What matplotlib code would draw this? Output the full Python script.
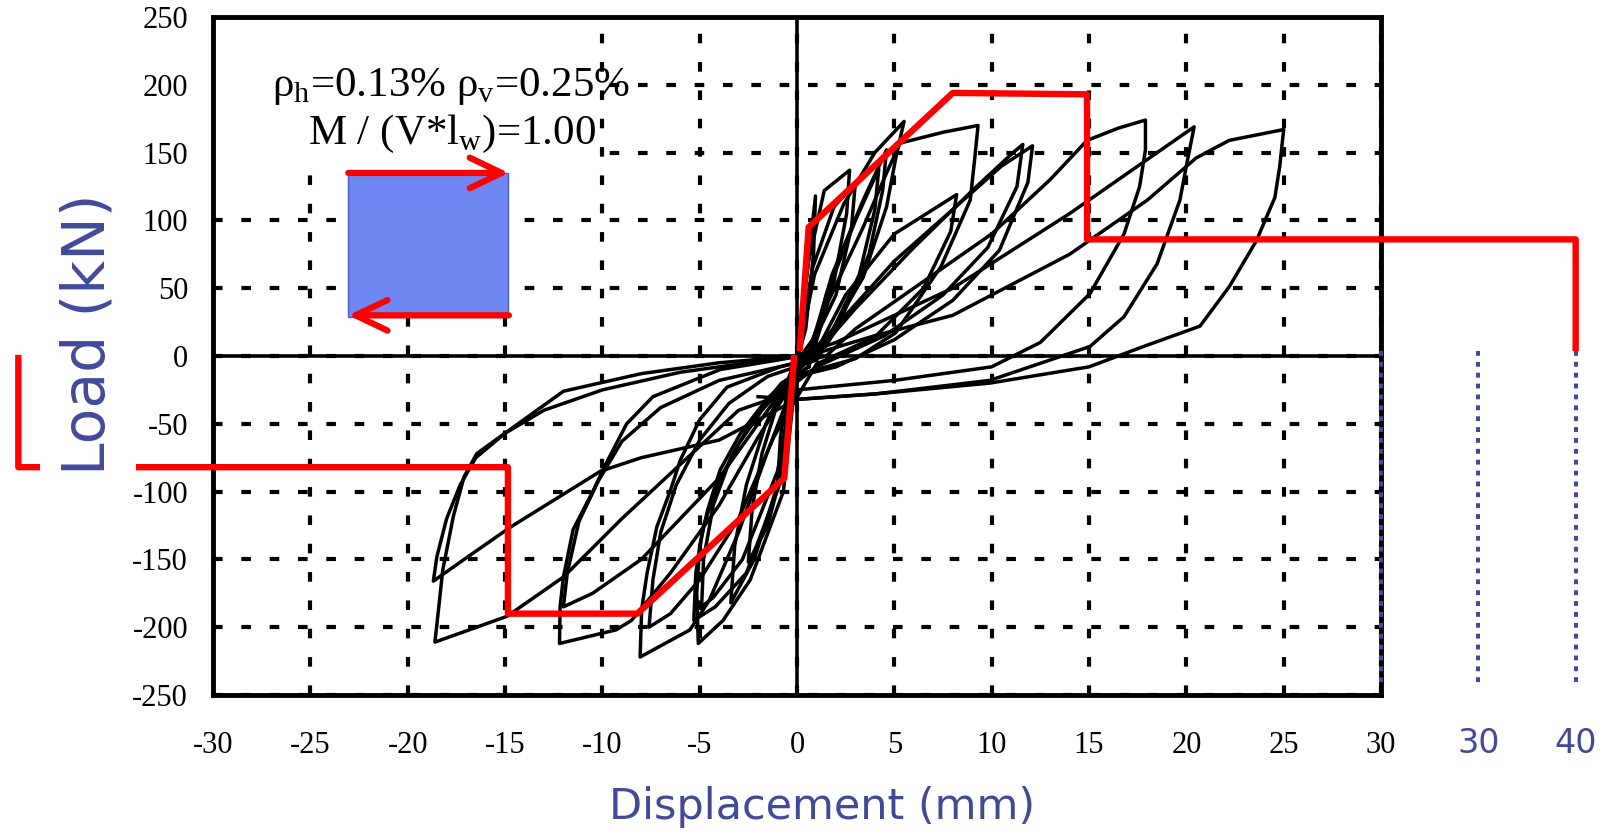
import matplotlib
matplotlib.use("Agg")
import matplotlib.pyplot as plt
import numpy as np
from matplotlib.patches import Rectangle

plt.rcParams["axes.unicode_minus"] = False

# hysteresis cycles, (displacement mm, load kN)
cyc1 = [(0, 0), (0.5, 60), (0.95, 118), (0.85, 75), (0.45, 20), (0, -3), (-0.5, -55),
        (-1.0, -95), (-0.85, -60), (-0.4, -15), (0, 0)]
cyc2 = [(0, 0), (0.6, 70), (1.4, 122), (2.7, 137), (2.55, 105), (1.9, 55), (0.8, 12),
        (0, -4), (-0.6, -75), (-1.5, -125), (-2.5, -152), (-2.3, -112), (-1.8, -72),
        (-1.0, -35), (0, -4)]
cyc2b = [(0, -4), (0.8, 65), (1.9, 110), (3.0, 128), (2.8, 95), (2.0, 45), (0.7, 6),
         (-0.3, -20), (-1.0, -95), (-2.2, -150), (-3.4, -182), (-3.2, -140),
         (-2.6, -95), (-1.6, -50), (-0.5, -18), (0.3, -6)]
cyc3 = [(0, -4), (0.9, 60), (2.4, 112), (4.0, 150), (5.5, 173), (5.1, 148), (4.6, 110),
        (3.4, 58), (1.6, 14), (0, -6), (-0.7, -100), (-2.4, -165), (-3.8, -195),
        (-5.07, -212), (-5.15, -175), (-5.0, -140), (-4.6, -114), (-3.95, -84),
        (-2.9, -57), (-1.56, -32), (-0.2, -13), (0.5, -5)]
cyc4 = [(0.5, -5), (1.8, 60), (3.4, 115), (4.6, 152), (4.4, 122), (3.7, 75), (2.2, 25),
        (0, -8), (-0.9, -95), (-2.6, -160), (-4.2, -185), (-5.3, -195), (-5.2, -160),
        (-4.8, -125), (-4.0, -92), (-3.0, -65), (-1.8, -40), (-0.4, -18), (0.6, -8)]
cyc4b = [(0.6, -8), (1.5, 45), (3.0, 100), (4.2, 138), (4.0, 108), (3.2, 60), (1.8, 18),
         (0, -10), (-1.0, -85), (-2.8, -150), (-4.3, -178), (-4.9, -185), (-4.8, -150),
         (-4.3, -110), (-3.4, -75), (-2.2, -45), (-0.8, -20), (0.6, -8)]
cyc5 = [(0.6, -8), (1.6, 40), (3.4, 95), (4.6, 135), (5.3, 157), (7.5, 165), (9.3, 170),
        (9.14, 147), (8.9, 115), (7.4, 66), (5.06, 17), (3, -2), (0, -14), (-1.5, -70),
        (-3.0, -130), (-4.5, -180), (-5.5, -202), (-8.06, -222), (-7.98, -187),
        (-7.7, -160), (-7.2, -126), (-6.5, -99), (-6.0, -77), (-5.0, -47), (-3.6, -23),
        (-0.87, -8), (0.8, -2)]
cyc6 = [(0.8, -2), (2.5, 45), (5, 90), (8.2, 119), (7.9, 92), (6.5, 50), (4, 14), (1, -6),
        (-1.2, -60), (-3, -120), (-5, -165), (-6.5, -190), (-7.6, -200), (-7.4, -165),
        (-7.0, -130), (-6.2, -95), (-5.0, -62), (-3.5, -35), (-1.5, -15), (1, -3)]
cyc7 = [(1, -3), (2.5, 30), (5, 70), (8, 108), (10.5, 140), (12.1, 155), (11.86, 128),
        (10.4, 78), (8.0, 41), (5, 12), (2, -8), (0, -15), (-2, -60), (-4, -110),
        (-6.5, -160), (-8.5, -195), (-9.3, -202), (-12.2, -212), (-12.17, -185),
        (-12.0, -163), (-11.5, -128), (-10.46, -99), (-9.8, -79), (-8.75, -50),
        (-7.4, -30), (-3.95, -10), (-1, -3), (1, 2)]
cyc8 = [(1, 2), (3, 35), (6, 80), (9, 122), (11.1, 150), (11.6, 156), (11.3, 125),
        (9.8, 80), (7.5, 45), (4.5, 15), (1, -8), (-1, -30), (-4, -90), (-8, -150),
        (-10.5, -175), (-12, -185), (-11.8, -160), (-11.2, -122), (-10.2, -92),
        (-9, -63), (-7, -38), (-4, -18), (0, -5), (1.5, 0)]
cyc9 = [(1.5, 0), (3, 20), (6, 50), (10, 90), (13, 130), (14.9, 159), (16.5, 168),
        (17.9, 174), (17.9, 152), (17.6, 125), (16.8, 90), (15.05, 46), (12.5, 10),
        (10, -8), (5, -18), (0, -25), (-3, -40), (-6, -80), (-9, -120), (-12, -163),
        (-14.9, -192), (-18.6, -211), (-18.4, -185), (-18.2, -158), (-17.65, -118),
        (-17.1, -89), (-16.45, -72), (-15.25, -59.5), (-12, -26), (-8, -13), (-4, -5),
        (0, 0)]
cyc10 = [(0, 0), (2, 10), (8, 50), (14, 105), (17, 135), (19, 155), (20.4, 169),
         (20, 140), (19.67, 115), (18.5, 68), (16.8, 29), (15.05, 7), (9.9, -18),
         (4, -28), (0, -32), (-4, -62), (-8, -75), (-10.1, -85), (-14.7, -126),
         (-17.1, -150), (-18.68, -166), (-18.5, -148), (-18.0, -120), (-17.3, -95),
         (-16.5, -75), (-15, -57), (-13, -40), (-10, -25), (-6, -12), (-2, -4), (1, 2)]
cyc11 = [(1, 2), (4, 15), (8, 30), (14, 75), (18, 115), (20.5, 146), (22.2, 159),
         (25, 167), (24.8, 140), (24.55, 117), (23.6, 85), (22.2, 51), (20.7, 22),
         (17.8, 7), (15, -8), (9.9, -20), (4, -28), (0, -32), (-2, -30)]
cycles = [cyc1, cyc2, cyc2b, cyc3, cyc4, cyc4b, cyc5, cyc6, cyc7, cyc8, cyc9, cyc10, cyc11]

# red envelope overlay
env_pos_x = [0.15, 0.6, 8.0, 14.9, 14.9, 40.0, 40.0]
env_pos_y = [6, 95, 194, 193, 86, 86, 6]
env_neg_x = [-0.15, -0.65, -8.2, -14.85, -14.85, -40.0, -40.0]
env_neg_y = [-1.5, -90, -190, -190, -82, -82, -1.5]

# extra blue marks on the right
blue_x = [30, 35, 40]
blue_label_x = [35, 40]
blue_labels = ["30", "40"]

xticks = np.arange(-30, 31, 5)
yticks = np.arange(-250, 251, 50)

blue = "#404a99"

fig = plt.figure(figsize=(16.02, 8.34), dpi=100)
ax = fig.add_axes([213 / 1602, 139 / 834, 1168 / 1602, 678 / 834])
ax.set_xlim(-30, 30)
ax.set_ylim(-250, 250)
ax.set_xticks(xticks)
ax.set_yticks(yticks)
ax.set_xticklabels([str(v) for v in xticks])
ax.set_yticklabels([str(v) for v in yticks])
ax.tick_params(length=0, labelsize=22)
ax.tick_params(axis="x", pad=26)
ax.tick_params(axis="y", pad=18)
for lab in ax.get_xticklabels() + ax.get_yticklabels():
    lab.set_fontfamily("Liberation Serif")
ax.grid(True, color="black", lw=3.0, linestyle=(0, (2.3, 4.5)), zorder=1)
ax.set_axisbelow(True)
for s in ax.spines.values():
    s.set_linewidth(3.5)
ax.axhline(0, color="black", lw=2.6, zorder=2)
ax.axvline(0, color="black", lw=2.6, zorder=2)

# white area behind the caption in the scan hides the grid there
ax.add_patch(Rectangle((-30, 137), 19.8, 113, facecolor="white", edgecolor="none",
                       zorder=1.5))

for c in cycles:
    xs, ys = zip(*c)
    ax.plot(xs, ys, color="black", lw=2.5, zorder=3, solid_joinstyle="round")

ax.plot(env_pos_x, env_pos_y, color="red", lw=4.6, zorder=5, clip_on=False)
ax.plot(env_neg_x, env_neg_y, color="red", lw=4.6, zorder=5, clip_on=False)

for x in blue_x:
    ax.plot([x, x], [4, -244], color=blue, lw=2.9, linestyle=(0, (1.2, 1.5)),
            zorder=6, clip_on=False)
for x, t in zip(blue_label_x, blue_labels):
    ax.annotate(t, xy=(x, 0), xycoords=("data", "axes fraction"), xytext=(0, -35),
                textcoords="offset points", ha="center", va="center",
                fontsize=24, color=blue, annotation_clip=False)

# shear panel sketch
ax.add_patch(Rectangle((-23.05, 29), 8.2, 106, facecolor="#6f87f2",
                       edgecolor="#4a5fc0", lw=1, zorder=4))
ax.annotate("", xy=(-14.8, 135), xytext=(-23.05, 135),
            arrowprops=dict(arrowstyle="->,head_length=1.15,head_width=0.55",
                            color="red", lw=4.5, mutation_scale=20,
                            shrinkA=0, shrinkB=0), zorder=5)
ax.annotate("", xy=(-23.05, 30), xytext=(-14.8, 30),
            arrowprops=dict(arrowstyle="->,head_length=1.15,head_width=0.55",
                            color="red", lw=4.5, mutation_scale=20,
                            shrinkA=0, shrinkB=0), zorder=5)

ax.text(-17.75, 199, "ρ$_\\mathregular{h}$=0.13% ρ$_\\mathregular{v}$=0.25%",
        fontfamily="Liberation Serif", fontsize=31, ha="center", va="center", zorder=6)
ax.text(-17.7, 164, "M / (V*l$_\\mathregular{w}$)=1.00",
        fontfamily="Liberation Serif", fontsize=31, ha="center", va="center", zorder=6)

fig.text(88 / 1602, 1 - 334 / 834, "Load (kN)", rotation=90, ha="center", va="center",
         fontsize=42, color=blue, fontfamily="DejaVu Sans",
         bbox=dict(facecolor="white", edgecolor="none", pad=14))
fig.text(822 / 1602, 1 - 807 / 834, "Displacement (mm)", ha="center", va="center",
         fontsize=31, color=blue, fontfamily="DejaVu Sans")

fig.savefig("out.png", dpi=100)
